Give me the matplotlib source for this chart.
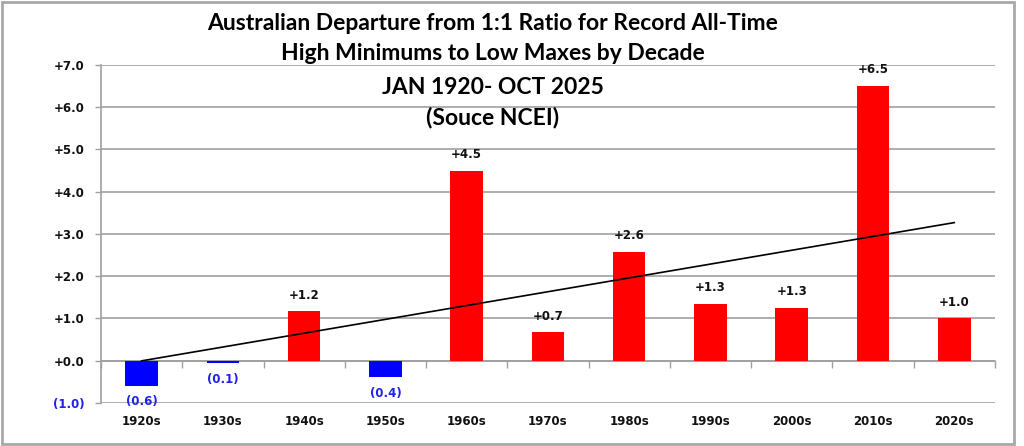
#!/usr/bin/env python3
"""Australian departure from 1:1 ratio of record highs/lows by decade."""

import matplotlib
matplotlib.use("Agg")
import matplotlib.pyplot as plt
from matplotlib.patches import Rectangle
from matplotlib.ticker import FixedLocator
import numpy as np

# Data
decades = ['1920s', '1930s', '1940s', '1950s', '1960s', '1970s',
           '1980s', '1990s', '2000s', '2010s', '2020s']
departure = [-0.59, -0.06, 1.17, -0.39, 4.5, 0.67, 2.57, 1.34, 1.26, 6.5, 1.0]
y_ticks = [-1, 0, 1, 2, 3, 4, 5, 6, 7]

title_lines = ['Australian Departure from 1:1 Ratio for Record All-Time',
               'High Minimums to Low Maxes by Decade',
               'JAN 1920- OCT 2025',
               '(Souce NCEI)']

RED = '#FF0000'
BLUE = '#0000FF'
LABEL_BLUE = '#2222EE'
GRID = '#A0A0A0'


def fmt(v):
    if round(v, 1) < 0:
        return f'({abs(v):.1f})'
    return f'+{abs(v):.1f}'


fig = plt.figure(figsize=(10.24, 4.46), dpi=100)
ax = fig.add_axes([0.0986, 0.0964, 0.873, 0.7579])

x = np.arange(len(decades))
colors = [RED if v >= 0 else BLUE for v in departure]
ax.bar(x, departure, width=0.4, color=colors, zorder=3)

# linear trend line across decades
z = np.polyfit(x, departure, 1)
ax.plot(x, np.poly1d(z)(x), color='black', linewidth=1.2, zorder=4)

# value labels
for xi, v in zip(x, departure):
    if v >= 0:
        ax.annotate(fmt(v), (xi, v), xytext=(0, 7), textcoords='offset points',
                    ha='center', va='bottom', fontsize=8.5, fontweight='bold',
                    color='#111111', zorder=5)
    else:
        ax.annotate(fmt(v), (xi, v), xytext=(0, -7), textcoords='offset points',
                    ha='center', va='top', fontsize=8.5, fontweight='bold',
                    color=LABEL_BLUE, zorder=5)

ax.set_xlim(-0.5, len(decades) - 0.5)
ax.set_ylim(y_ticks[0], y_ticks[-1])
ax.set_yticks(y_ticks)
ax.set_yticklabels([fmt(t) for t in y_ticks])
for lab, t in zip(ax.get_yticklabels(), y_ticks):
    lab.set_color(LABEL_BLUE if t < 0 else '#111111')
ax.tick_params(axis='y', length=4, width=1, color=GRID, labelsize=8.5, pad=8)
for lab in ax.get_yticklabels():
    lab.set_fontweight('bold')

ax.grid(axis='y', color=GRID, linewidth=1.2, zorder=0)
ax.set_axisbelow(True)

# x axis sits at zero, labels drop to the bottom
ax.spines['bottom'].set_position(('data', 0))
ax.spines['bottom'].set_color(GRID)
ax.spines['bottom'].set_linewidth(1.2)
ax.spines['left'].set_color(GRID)
ax.spines['left'].set_linewidth(1.2)
ax.spines['top'].set_visible(False)
ax.spines['right'].set_visible(False)

ax.set_xticks(x)
ax.set_xticklabels(decades)
ax.xaxis.set_minor_locator(FixedLocator(np.arange(len(decades) + 1) - 0.5))
ax.tick_params(axis='x', which='major', length=0, labelsize=8.5, pad=39)
ax.tick_params(axis='x', which='minor', length=5, width=1, color=GRID)
for lab in ax.get_xticklabels():
    lab.set_fontweight('bold')
    lab.set_color('#111111')

# title block
title_y = [0.948, 0.880, 0.803, 0.737]
for line, ty in zip(title_lines, title_y):
    fig.text(0.481, ty, line, ha='center', va='center', fontsize=16.5,
             fontweight='bold', family=['Lato', 'DejaVu Sans'], color='black')

# outer frame
fig.patches.append(Rectangle((0.002, 0.005), 0.988, 0.99, transform=fig.transFigure,
                             fill=False, edgecolor='#A8A8A8', linewidth=2))

plt.savefig('out.png', dpi=100)
plt.close()
